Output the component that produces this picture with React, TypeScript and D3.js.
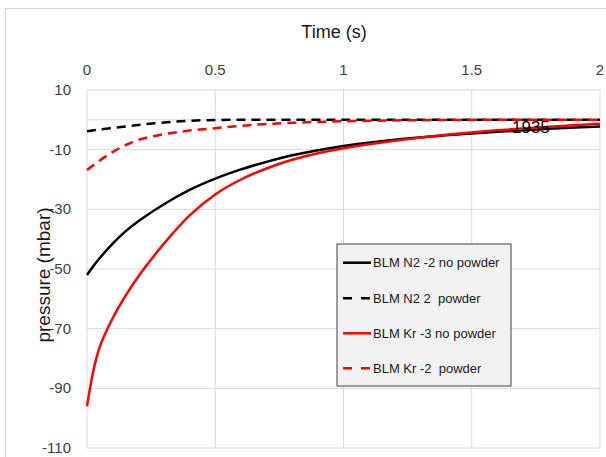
import React from "react";
import * as d3 from "d3";

// time grid (s)
const timeValues = [0, 0.025, 0.05, 0.1, 0.15, 0.2, 0.3, 0.4, 0.5, 0.6, 0.7, 0.8, 0.9, 1, 1.2, 1.4, 1.6, 1.8, 2];

// pressure (mbar)
const n2NoPowder = [-52, -49, -46.3, -41.5, -37.4, -34, -28.3, -23.5, -19.7, -16.6, -14.1, -11.9, -10.2, -8.8, -6.7, -5.2, -4, -3, -2.2];
const n2Powder = [-3.8, -3.5, -3.2, -2.7, -2.2, -1.7, -0.9, -0.3, -0.05, 0, 0, 0, 0, 0, 0, 0, 0, 0, 0];
const krNoPowder = [-96, -84, -76, -66.5, -59, -52.5, -41.5, -32, -25, -20, -16.3, -13.4, -11.2, -9.5, -7, -5, -3.5, -2.3, -1.3];
const krPowder = [-16.8, -15.2, -13.6, -10.8, -8.5, -6.7, -4.8, -3.6, -2.8, -2, -1.4, -1, -0.7, -0.5, -0.2, -0.05, 0, 0, 0];

const seriesNames = ["BLM N2 -2 no powder", "BLM N2 2  powder", "BLM Kr -3 no powder", "BLM Kr -2  powder"];
const seriesValues = [n2NoPowder, n2Powder, krNoPowder, krPowder];
const seriesColors = ["#000000", "#000000", "#ff0000", "#ff0000"];
const seriesDashed = [false, true, false, true];

const xTicks = [0, 0.5, 1, 1.5, 2];
const yTicks = [10, -10, -30, -50, -70, -90, -110];
const annotation = "1935";

const W = 606;
const H = 457;
const margin = { left: 87, right: 6, top: 90, bottom: 9 };
const font = "'Liberation Sans', Arial, sans-serif";

export default function App() {
  const x = d3.scaleLinear().domain([0, 2]).range([margin.left, W - margin.right]);
  const y = d3.scaleLinear().domain([-110, 10]).range([H - margin.bottom, margin.top]);

  const line = (vals: number[]) =>
    d3.line<number>()
      .x((_, i) => x(timeValues[i]))
      .y(d => y(d))
      .curve(d3.curveCatmullRom.alpha(0.5))(vals) || "";

  const legendX = 337;
  const legendY = 244;
  const legendRows = [262.7, 298.3, 333.3, 368.3];

  return (
    <svg width={W} height={H} style={{ position: "absolute", left: 0, top: 0, fontFamily: font }}>
      <rect x={0} y={0} width={W} height={H} fill="#ffffff" />
      <rect x={5.5} y={8.5} width={W + 10} height={H + 10} fill="none" stroke="#d9d9d9" />

      {/* grid */}
      {xTicks.map(t => (
        <line key={"gx" + t} x1={x(t)} x2={x(t)} y1={y(10)} y2={y(-110)} stroke="#d9d9d9" strokeWidth={1} />
      ))}
      {yTicks.map(t => (
        <line key={"gy" + t} x1={x(0)} x2={x(2)} y1={y(t)} y2={y(t)} stroke="#d9d9d9" strokeWidth={1} />
      ))}
      <line x1={x(0)} x2={x(2)} y1={y(0)} y2={y(0)} stroke="#d9d9d9" strokeWidth={1} />

      {/* tick labels */}
      {xTicks.map(t => (
        <text key={"tx" + t} x={x(t)} y={75} textAnchor="middle" fontSize={15} fill="#404040">{t}</text>
      ))}
      {yTicks.map(t => (
        <text key={"ty" + t} x={71} y={y(t) + 5} textAnchor="end" fontSize={15} fill="#404040">{t}</text>
      ))}

      {/* axis titles */}
      <text x={334} y={38} textAnchor="middle" fontSize={18} fill="#1a1a1a">Time (s)</text>
      <text transform={`translate(50,275) rotate(-90)`} textAnchor="middle" fontSize={19} fill="#1a1a1a">pressure (mbar)</text>

      {/* series */}
      {seriesValues.map((vals, i) => (
        <path key={"s" + i} d={line(vals)} fill="none" stroke={seriesColors[i]} strokeWidth={2.5}
          strokeDasharray={seriesDashed[i] ? "9,6" : undefined} />
      ))}

      <text x={512} y={133} fontSize={17} fill="#000000">{annotation}</text>

      {/* legend */}
      <rect x={legendX} y={legendY} width={174} height={142} fill="#f2f2f2" stroke="#404040" strokeWidth={1} />
      {seriesNames.map((name, i) => (
        <g key={"l" + i}>
          <line x1={343} x2={371} y1={legendRows[i]} y2={legendRows[i]} stroke={seriesColors[i]} strokeWidth={2.5}
            strokeDasharray={seriesDashed[i] ? "9,9" : undefined} />
          <text x={373} y={legendRows[i] + 4.5} fontSize={13} fill="#1a1a1a" style={{ whiteSpace: "pre" }}>{name}</text>
        </g>
      ))}
    </svg>
  );
}
